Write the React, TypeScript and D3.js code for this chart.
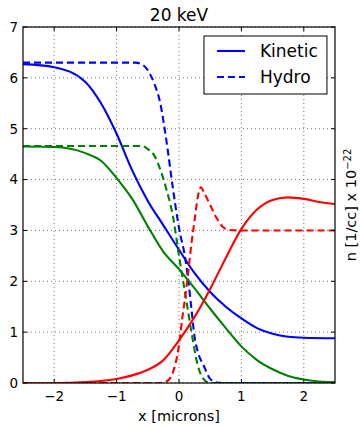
import React, { useEffect, useRef } from 'react';
import * as d3 from 'd3';

interface Pt {
  x: number;
  n: number;
}

const pts = (xs: number[], ys: number[]): Pt[] => xs.map((x, i) => ({ x, n: ys[i] }));

// Kinetic profiles
const blueKinX = [-2.5, -2.0, -1.5, -1.25, -1.0, -0.75, -0.5, -0.25, 0, 0.25, 0.5, 0.75, 1.0, 1.25, 1.5, 1.75, 2.0, 2.5];
const blueKinN = [6.27, 6.21, 5.92, 5.5, 4.9, 4.18, 3.58, 3.1, 2.62, 2.16, 1.79, 1.5, 1.27, 1.08, 0.97, 0.91, 0.89, 0.88];

const greenKinX = [-2.5, -2.0, -1.5, -1.25, -1.0, -0.75, -0.5, -0.25, 0, 0.25, 0.5, 0.75, 1.0, 1.25, 1.5, 1.75, 2.0, 2.25, 2.5];
const greenKinN = [4.65, 4.64, 4.52, 4.37, 4.03, 3.62, 3.08, 2.58, 2.24, 1.86, 1.46, 1.08, 0.72, 0.45, 0.27, 0.14, 0.07, 0.03, 0.02];

const redKinX = [-2.5, -2.0, -1.5, -1.0, -0.75, -0.5, -0.25, 0, 0.25, 0.5, 0.75, 1.0, 1.25, 1.5, 1.75, 2.0, 2.25, 2.5];
const redKinN = [0.0, 0.0, 0.02, 0.08, 0.15, 0.26, 0.45, 0.84, 1.3, 1.85, 2.46, 3.03, 3.41, 3.6, 3.65, 3.62, 3.56, 3.52];

// Hydro profiles
const blueHydX = [-2.5, -0.7, -0.6, -0.5, -0.4, -0.3, -0.2, -0.1, 0, 0.1, 0.15, 0.2, 0.25, 0.3, 0.4, 0.5, 0.6, 0.7, 2.5];
const blueHydN = [6.3, 6.3, 6.27, 6.15, 5.9, 5.5, 4.75, 3.85, 3.05, 2.45, 2.0, 1.45, 0.9, 0.62, 0.33, 0.08, 0.01, 0, 0];

const greenHydX = [-2.5, -0.6, -0.5, -0.4, -0.3, -0.2, -0.1, 0, 0.1, 0.2, 0.3, 0.4, 0.5, 2.5];
const greenHydN = [4.66, 4.66, 4.6, 4.48, 4.2, 3.8, 3.3, 2.5, 1.75, 1.0, 0.35, 0.07, 0, 0];

const redHydX = [-2.5, -0.3, -0.2, -0.1, 0, 0.05, 0.1, 0.15, 0.2, 0.25, 0.3, 0.35, 0.4, 0.5, 0.6, 0.7, 0.8, 1.0, 2.5];
const redHydN = [0, 0, 0.03, 0.2, 0.75, 1.25, 1.7, 2.2, 2.75, 3.2, 3.65, 3.85, 3.75, 3.5, 3.25, 3.07, 3.01, 3.0, 3.0];

const xTicks = [-2, -1, 0, 1, 2];
const yTicks = [0, 1, 2, 3, 4, 5, 6, 7];

const series = [
  { data: pts(blueKinX, blueKinN), color: '#0000ff', dashed: false },
  { data: pts(blueHydX, blueHydN), color: '#0000ff', dashed: true },
  { data: pts(greenKinX, greenKinN), color: '#008000', dashed: false },
  { data: pts(greenHydX, greenHydN), color: '#008000', dashed: true },
  { data: pts(redKinX, redKinN), color: '#ff0000', dashed: false },
  { data: pts(redHydX, redHydN), color: '#ff0000', dashed: true },
];

const legendItems = [
  { label: 'Kinetic', dashed: false },
  { label: 'Hydro', dashed: true },
];

const FONT = '"DejaVu Sans", sans-serif';

export default function App() {
  const svgRef = useRef<SVGSVGElement>(null);
  const width = 360;
  const height = 426;

  useEffect(() => {
    if (!svgRef.current) return;
    const root = d3.select(svgRef.current);
    root.selectAll('*').remove();

    const margin = { top: 27, right: 25, bottom: 43, left: 23 };
    const w = width - margin.left - margin.right;
    const h = height - margin.top - margin.bottom;

    const svg = root.append('g').attr('transform', `translate(${margin.left},${margin.top})`);

    const x = d3.scaleLinear().domain([-2.5, 2.5]).range([0, w]);
    const y = d3.scaleLinear().domain([0, 7]).range([h, 0]);

    root
      .append('defs')
      .append('clipPath')
      .attr('id', 'plot-clip')
      .append('rect')
      .attr('x', 0)
      .attr('y', 0)
      .attr('width', w)
      .attr('height', h);

    // grid
    svg
      .selectAll('.gx')
      .data(xTicks)
      .enter()
      .append('line')
      .attr('x1', d => x(d))
      .attr('x2', d => x(d))
      .attr('y1', 0)
      .attr('y2', h)
      .attr('stroke', '#555')
      .attr('stroke-width', 0.8)
      .attr('stroke-dasharray', '1,3');
    svg
      .selectAll('.gy')
      .data(yTicks)
      .enter()
      .append('line')
      .attr('x1', 0)
      .attr('x2', w)
      .attr('y1', d => y(d))
      .attr('y2', d => y(d))
      .attr('stroke', '#555')
      .attr('stroke-width', 0.8)
      .attr('stroke-dasharray', '1,3');

    // curves
    const line = d3
      .line<Pt>()
      .x(d => x(d.x))
      .y(d => y(d.n))
      .curve(d3.curveMonotoneX);

    const plot = svg.append('g').attr('clip-path', 'url(#plot-clip)');
    series.forEach(s => {
      plot
        .append('path')
        .datum(s.data)
        .attr('fill', 'none')
        .attr('stroke', s.color)
        .attr('stroke-width', 2.1)
        .attr('stroke-dasharray', s.dashed ? '7,4' : null)
        .attr('d', line);
    });

    // inward ticks on all four sides
    const tickLen = 4;
    xTicks.forEach(t => {
      svg.append('line').attr('x1', x(t)).attr('x2', x(t)).attr('y1', h).attr('y2', h - tickLen).attr('stroke', '#000');
      svg.append('line').attr('x1', x(t)).attr('x2', x(t)).attr('y1', 0).attr('y2', tickLen).attr('stroke', '#000');
    });
    yTicks.forEach(t => {
      svg.append('line').attr('x1', 0).attr('x2', tickLen).attr('y1', y(t)).attr('y2', y(t)).attr('stroke', '#000');
      svg.append('line').attr('x1', w).attr('x2', w - tickLen).attr('y1', y(t)).attr('y2', y(t)).attr('stroke', '#000');
    });

    // frame
    svg
      .append('rect')
      .attr('x', 0)
      .attr('y', 0)
      .attr('width', w)
      .attr('height', h)
      .attr('fill', 'none')
      .attr('stroke', '#000')
      .attr('stroke-width', 1.2);

    // tick labels
    svg
      .selectAll('.xl')
      .data(xTicks)
      .enter()
      .append('text')
      .attr('x', d => x(d))
      .attr('y', h + 18)
      .attr('text-anchor', 'middle')
      .attr('font-family', FONT)
      .attr('font-size', '13.5px')
      .attr('fill', '#000')
      .text(d => (d < 0 ? `\u2212${Math.abs(d)}` : `${d}`));

    svg
      .selectAll('.yl')
      .data(yTicks)
      .enter()
      .append('text')
      .attr('x', -5)
      .attr('y', d => y(d))
      .attr('dy', '0.36em')
      .attr('text-anchor', 'end')
      .attr('font-family', FONT)
      .attr('font-size', '13.5px')
      .attr('fill', '#000')
      .text(d => `${d}`);

    // title
    svg
      .append('text')
      .attr('x', w / 2)
      .attr('y', -6)
      .attr('text-anchor', 'middle')
      .attr('font-family', FONT)
      .attr('font-size', '17px')
      .attr('fill', '#000')
      .text('20 keV');

    // x label
    svg
      .append('text')
      .attr('x', w / 2)
      .attr('y', h + 38)
      .attr('text-anchor', 'middle')
      .attr('font-family', FONT)
      .attr('font-size', '14.5px')
      .attr('fill', '#000')
      .text('x [microns]');

    // y label on right
    const yl = svg
      .append('text')
      .attr('transform', `translate(${w + 21},${h / 2}) rotate(-90)`)
      .attr('text-anchor', 'middle')
      .attr('font-family', FONT)
      .attr('font-size', '14.5px')
      .attr('fill', '#000');
    yl.append('tspan').text('n [1/cc] x 10');
    yl.append('tspan').attr('dy', '-0.5em').attr('font-size', '10px').text('\u221222');

    // legend
    const lg = svg.append('g').attr('transform', `translate(${x(0.4)},${9})`);
    lg.append('rect')
      .attr('x', 0)
      .attr('y', 0)
      .attr('width', 123)
      .attr('height', 58)
      .attr('fill', '#fff')
      .attr('stroke', '#000')
      .attr('stroke-width', 1);
    legendItems.forEach((it, i) => {
      const cy = 15 + i * 26;
      lg.append('line')
        .attr('x1', 13)
        .attr('x2', 41)
        .attr('y1', cy)
        .attr('y2', cy)
        .attr('stroke', '#0000ff')
        .attr('stroke-width', 2.1)
        .attr('stroke-dasharray', it.dashed ? '7,4' : null);
      lg.append('text')
        .attr('x', 56)
        .attr('y', cy)
        .attr('dy', '0.36em')
        .attr('font-family', FONT)
        .attr('font-size', '17px')
        .attr('fill', '#000')
        .text(it.label);
    });
  }, []);

  return (
    <div style={{ position: 'fixed', left: 0, top: 0, width, height, background: '#fff' }}>
      <svg ref={svgRef} width={width} height={height}></svg>
    </div>
  );
}
